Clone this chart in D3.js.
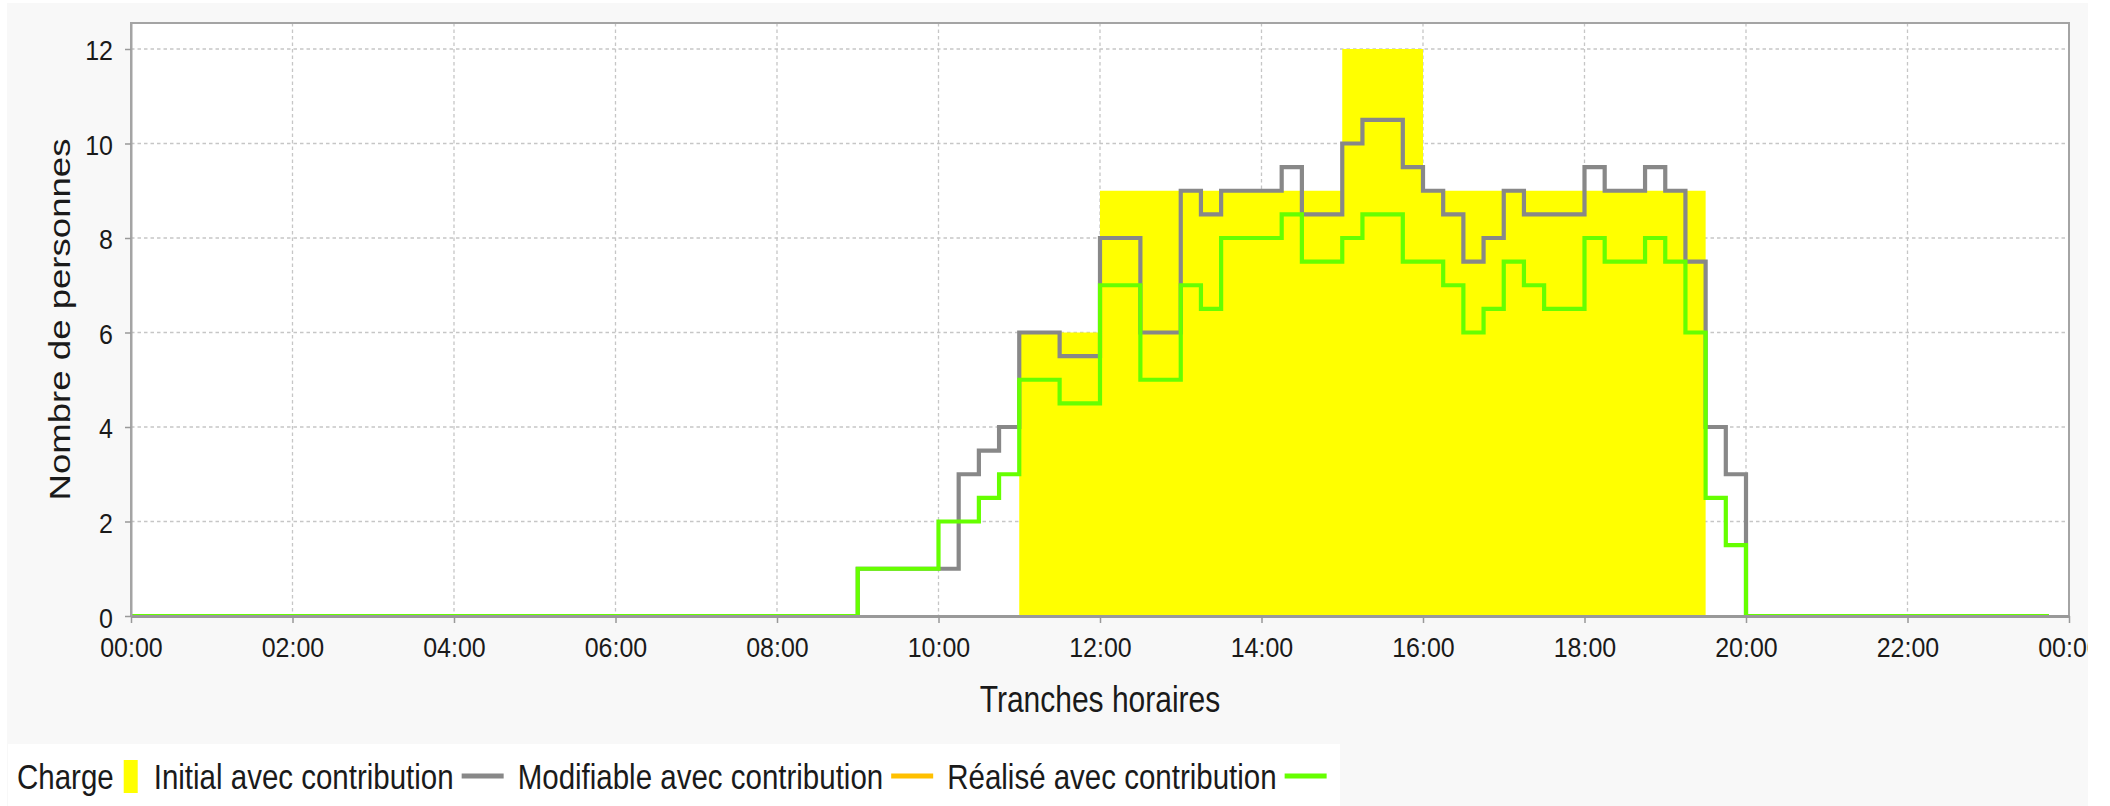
<!DOCTYPE html>
<html>
<head>
<meta charset="utf-8">
<script src="https://cdn.jsdelivr.net/npm/d3@7"></script>
<style>
body { margin: 0; background: #fff; }
text { font-family: "Liberation Sans", Arial, sans-serif; fill: #1a1a1a; }
.grid line { stroke: #c6c6c6; stroke-width: 1.3; stroke-dasharray: 3.5,3; }
</style>
</head>
<body>
<svg id="chart" width="2110" height="806"></svg>
<script>
// one value per 15 min slot, 00:00 .. 23:45
var dayStart = new Date(Date.UTC(2000, 0, 1, 0, 0));
var dayEnd = new Date(Date.UTC(2000, 0, 2, 0, 0));
var slotTimes = d3.utcMinute.every(15).range(dayStart, dayEnd);

var chargeValues = [
	0,0,0,0, 0,0,0,0,
	0,0,0,0, 0,0,0,0,
	0,0,0,0, 0,0,0,0,
	0,0,0,0, 0,0,0,0,
	0,0,0,0, 0,0,0,0,
	0,0,0,0, 6,6,6,6,
	9,9,9,9, 9,9,9,9,
	9,9,9,9, 12,12,12,12,
	9,9,9,9, 9,9,9,9,
	9,9,9,9, 9,9,0,0,
	0,0,0,0, 0,0,0,0,
	0,0,0,0, 0,0,0,0
];
var initialValues = [
	0,0,0,0, 0,0,0,0,
	0,0,0,0, 0,0,0,0,
	0,0,0,0, 0,0,0,0,
	0,0,0,0, 0,0,0,0,
	0,0,0,0, 1,1,1,1,
	1,3,3.5,4, 6,6,5.5,5.5,
	8,8,6,6, 9,8.5,9,9,
	9,9.5,8.5,8.5, 10,10.5,10.5,9.5,
	9,8.5,7.5,8, 9,8.5,8.5,8.5,
	9.5,9,9,9.5, 9,7.5,4,3,
	0,0,0,0, 0,0,0,0,
	0,0,0,0, 0,0,0,0
];
var modifiableValues = []; // in the legend, no line visible
var realiseValues = [
	0,0,0,0, 0,0,0,0,
	0,0,0,0, 0,0,0,0,
	0,0,0,0, 0,0,0,0,
	0,0,0,0, 0,0,0,0,
	0,0,0,0, 1,1,1,1,
	2,2,2.5,3, 5,5,4.5,4.5,
	7,7,5,5, 7,6.5,8,8,
	8,8.5,7.5,7.5, 8,8.5,8.5,7.5,
	7.5,7,6,6.5, 7.5,7,6.5,6.5,
	8,7.5,7.5,8, 7.5,6,2.5,1.5,
	0,0,0,0, 0,0,0,0,
	0,0,0,0, 0,0,0,0
];

var yTicks = [0, 2, 4, 6, 8, 10, 12];
var yMax = 12.55;
var xTitle = "Tranches horaires";
var yTitle = "Nombre de personnes";
var legendLabels = ["Charge", "Initial avec contribution", "Modifiable avec contribution", "Réalisé avec contribution"];
var legendColors = ["#ffff00", "#888888", "#ffc000", "#66ff00"];
var legendShapes = ["rect", "line", "line", "line"];

var chartBox = {x: 7, y: 3, w: 2081, h: 803};
var plot = {left: 131, right: 2069, top: 23, bottom: 616};
var legendBox = {x: 8, y: 744, w: 1332, h: 62};
var stretch = 1.22;
var tickStretch = 1.12;
var lineWidth = 4.2;

var svg = d3.select("#chart");
var chart, gPlot;

var x = d3.scaleUtc()
.domain([dayStart, dayEnd])
.range([plot.left, plot.right]);

var y = d3.scaleLinear()
.domain([0, yMax])
.range([plot.bottom, plot.top]);

function zipSeries(values) {
	return values.map(function(v, i) { return {t: slotTimes[i], v: v}; });
}

function drawBackground() {
	svg.append("defs").append("clipPath")
	.attr("id", "chartClip")
	.append("rect")
	.attr("x", chartBox.x).attr("y", chartBox.y)
	.attr("width", chartBox.w).attr("height", chartBox.h);

	chart = svg.append("g").attr("clip-path", "url(#chartClip)");
	chart.append("rect")
	.attr("x", chartBox.x).attr("y", chartBox.y)
	.attr("width", chartBox.w).attr("height", chartBox.h)
	.attr("fill", "#f8f8f8");

	chart.append("rect")
	.attr("x", plot.left).attr("y", plot.top)
	.attr("width", plot.right-plot.left).attr("height", plot.bottom-plot.top)
	.attr("fill", "#fff");

	var grid = chart.append("g").attr("class", "grid");
	grid.selectAll("line.h").data(yTicks.slice(1))
	.enter().append("line")
	.attr("class", "h")
	.attr("x1", plot.left).attr("x2", plot.right)
	.attr("y1", function(d) { return y(d); })
	.attr("y2", function(d) { return y(d); });
	grid.selectAll("line.v").data(x.ticks(d3.utcHour.every(2)))
	.enter().append("line")
	.attr("class", "v")
	.attr("x1", function(d) { return x(d); })
	.attr("x2", function(d) { return x(d); })
	.attr("y1", plot.top).attr("y2", plot.bottom);
}

function drawSeries() {
	gPlot = chart.append("g").attr("class", "series");

	var area = d3.area()
	.curve(d3.curveStepAfter)
	.x(function(d) { return x(d.t); })
	.y0(y(0))
	.y1(function(d) { return y(d.v); });

	var line = d3.line()
	.curve(d3.curveStepAfter)
	.x(function(d) { return x(d.t); })
	.y(function(d) { return y(d.v); });

	gPlot.append("path")
	.datum(zipSeries(chargeValues))
	.attr("d", area)
	.attr("fill", legendColors[0]);

	[initialValues, modifiableValues, realiseValues].forEach(function(vals, i) {
		if (!vals.length) return;
		gPlot.append("path")
		.datum(zipSeries(vals))
		.attr("d", line)
		.attr("fill", "none")
		.attr("stroke", legendColors[i+1])
		.attr("stroke-width", lineWidth)
		.attr("stroke-linejoin", "miter");
	});
}

function drawAxes() {
	chart.append("rect")
	.attr("x", plot.left).attr("y", plot.top)
	.attr("width", plot.right-plot.left).attr("height", plot.bottom-plot.top)
	.attr("fill", "none")
	.attr("stroke", "#a4a4a4")
	.attr("stroke-width", 2);

	var xAxis = d3.axisBottom(x)
	.ticks(d3.utcHour.every(2))
	.tickFormat(d3.utcFormat("%H:%M"))
	.tickSize(7)
	.tickSizeOuter(0);
	var gx = chart.append("g")
	.attr("transform", "translate(0,"+plot.bottom+")")
	.call(xAxis);
	gx.select(".domain")
	.attr("stroke", "#999")
	.attr("stroke-width", 3);
	gx.selectAll(".tick line").attr("stroke", "#999").attr("stroke-width", 1.5);
	gx.selectAll(".tick text")
	.attr("y", null).attr("dy", null)
	.style("font-size", "25px")
	.attr("transform", "translate(0,41) scale(1,"+tickStretch+")");

	var yAxis = d3.axisLeft(y)
	.tickValues(yTicks)
	.tickSize(6)
	.tickSizeOuter(0);
	var gy = chart.append("g")
	.attr("transform", "translate("+plot.left+",0)")
	.call(yAxis);
	gy.select(".domain")
	.attr("stroke", "#a4a4a4")
	.attr("stroke-width", 2);
	gy.selectAll(".tick line").attr("stroke", "#999").attr("stroke-width", 1.5);
	gy.selectAll(".tick text")
	.attr("x", null).attr("dy", null)
	.style("font-size", "25px")
	.attr("text-anchor", "end")
	.attr("transform", "translate(-18,11) scale(1,"+tickStretch+")");

	chart.append("text")
	.attr("transform", "translate("+[(plot.left+plot.right)/2, 712]+") scale(1,"+stretch+")")
	.attr("text-anchor", "middle")
	.style("font-size", "30px")
	.text(xTitle);

	chart.append("text")
	.attr("transform", "translate("+[70, (plot.top+plot.bottom)/2]+") scale(1,"+stretch+") rotate(-90)")
	.attr("text-anchor", "middle")
	.style("font-size", "30px")
	.text(yTitle);
}

function drawLegend() {
	var gLegend = chart.append("g").attr("id", "legend");
	gLegend.append("rect")
	.attr("x", legendBox.x).attr("y", legendBox.y)
	.attr("width", legendBox.w).attr("height", legendBox.h)
	.attr("fill", "#fff");

	var cx = 17, midY = 776, baseY = 789;
	legendLabels.forEach(function(label, i) {
		var t = gLegend.append("text")
		.attr("transform", "translate("+[cx, baseY]+") scale(1,"+stretch+")")
		.style("font-size", "29.5px")
		.text(label);
		cx += t.node().getComputedTextLength() + 8;
		if (legendShapes[i] == "rect") {
			gLegend.append("rect")
			.attr("x", cx+2).attr("y", midY-16)
			.attr("width", 14).attr("height", 33)
			.attr("fill", legendColors[i]);
			cx += 18 + 14;
		} else {
			gLegend.append("line")
			.attr("x1", cx).attr("x2", cx+42)
			.attr("y1", midY).attr("y2", midY)
			.attr("stroke", legendColors[i])
			.attr("stroke-width", 5);
			cx += 42 + 14;
		}
	});
}

drawBackground();
drawSeries();
drawAxes();
drawLegend();
</script>
</body>
</html>
